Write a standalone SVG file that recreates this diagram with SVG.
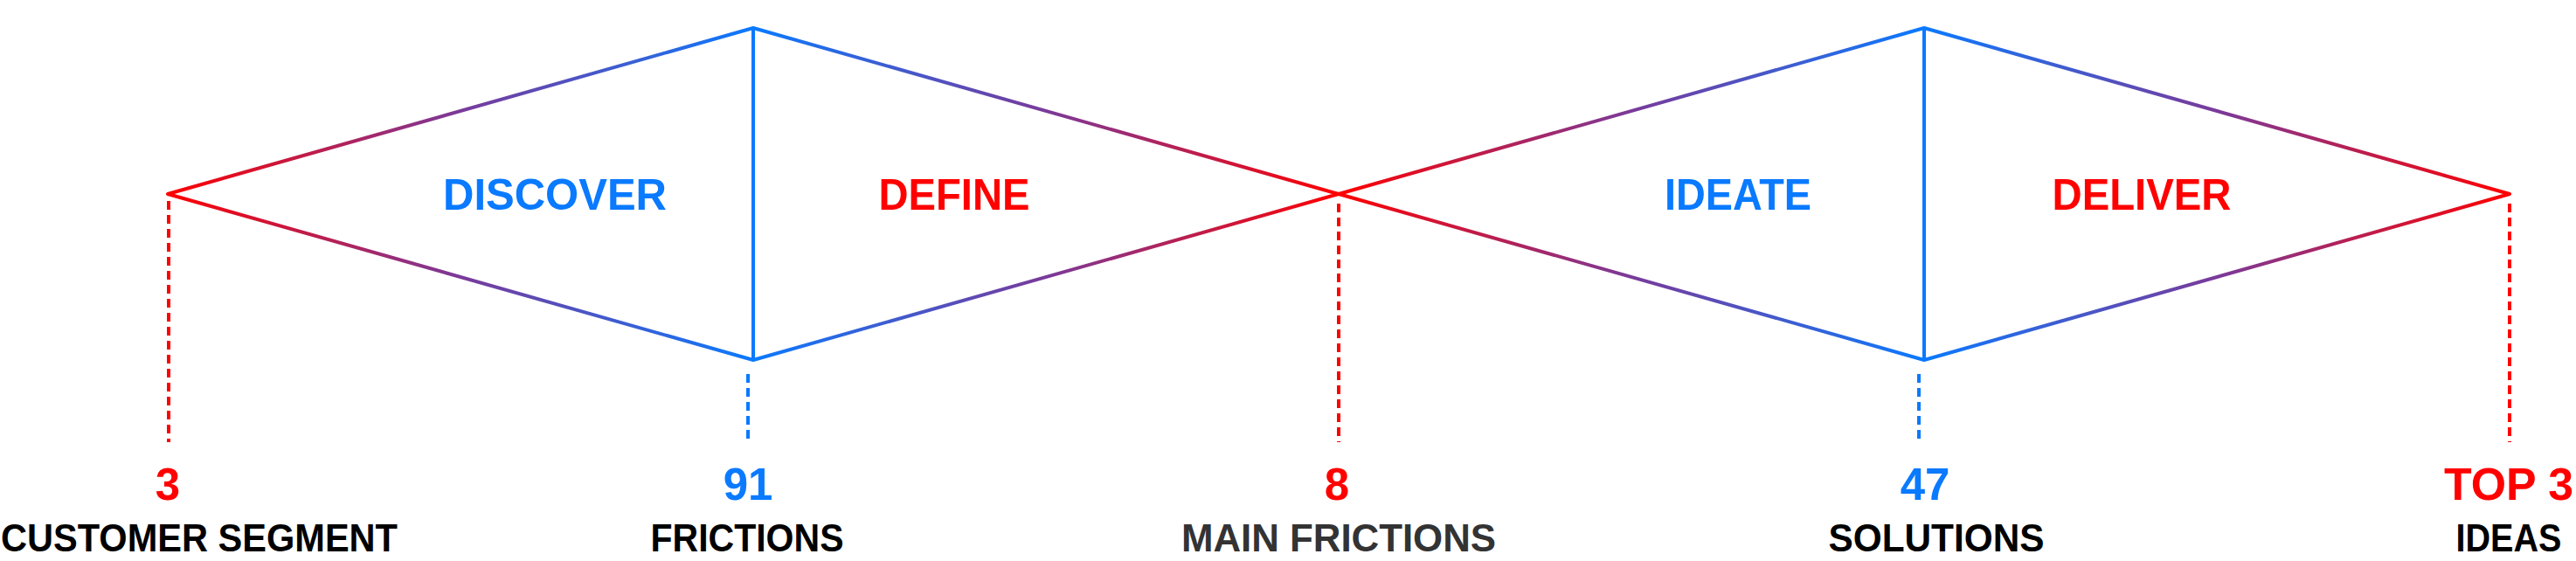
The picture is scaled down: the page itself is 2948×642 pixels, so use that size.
<svg xmlns="http://www.w3.org/2000/svg" width="2948" height="642" viewBox="0 0 2948 642">
  <defs>
    <linearGradient id="grad" gradientUnits="userSpaceOnUse" x1="192" y1="0" x2="862" y2="0" spreadMethod="reflect">
      <stop offset="0" stop-color="#FF0000"/>
      <stop offset="0.5" stop-color="#7A3A9A"/>
      <stop offset="1" stop-color="#0A7AFF"/>
    </linearGradient>
  </defs>
  <style>
    .edge { fill: none; stroke: url(#grad); stroke-width: 4; stroke-linejoin: round; stroke-linecap: round; }
    .vert { fill: none; stroke: #0A7AFF; stroke-width: 4; }
    .dotr { fill: none; stroke: #FF0000; stroke-width: 4; stroke-dasharray: 10 6; }
    .dotb { fill: none; stroke: #0A7AFF; stroke-width: 4; stroke-dasharray: 10 6; }
    .phase { font-family: "Liberation Sans", Arial, sans-serif; font-weight: bold; font-size: 50px; text-anchor: middle; }
    .num { font-family: "Liberation Sans", Arial, sans-serif; font-weight: bold; font-size: 51px; text-anchor: middle; }
    .lbl { font-family: "Liberation Sans", Arial, sans-serif; font-weight: bold; font-size: 44px; text-anchor: middle; fill: #000000; }
    .blue { fill: #0A7AFF; }
    .red { fill: #FF0000; }
  </style>
  <g id="connectors">
    <path class="edge" d="M192,222 L862,32 L1532,222 L2202,32 L2872,222 L2202,412 L1532,222 L862,412 Z"/>
    <line class="vert" x1="862" y1="32" x2="862" y2="412"/>
    <line class="vert" x1="2202" y1="32" x2="2202" y2="412"/>
    <line class="dotr" x1="193" y1="230" x2="193" y2="506"/>
    <line class="dotb" x1="856" y1="428" x2="856" y2="506"/>
    <line class="dotr" x1="1532" y1="233" x2="1532" y2="506"/>
    <line class="dotb" x1="2196" y1="428" x2="2196" y2="506"/>
    <line class="dotr" x1="2872" y1="233" x2="2872" y2="506"/>
  </g>
  <g id="discover"><text class="phase blue" x="635" y="240" textLength="256" lengthAdjust="spacingAndGlyphs">DISCOVER</text></g>
  <g id="define"><text class="phase red" x="1092" y="240" textLength="173" lengthAdjust="spacingAndGlyphs">DEFINE</text></g>
  <g id="ideate"><text class="phase blue" x="1989" y="240" textLength="168" lengthAdjust="spacingAndGlyphs">IDEATE</text></g>
  <g id="deliver"><text class="phase red" x="2451" y="240" textLength="205" lengthAdjust="spacingAndGlyphs">DELIVER</text></g>
  <g id="customer-segment">
    <text class="num red" x="192" y="572">3</text>
    <text class="lbl" x="228" y="631" textLength="454" lengthAdjust="spacingAndGlyphs">CUSTOMER SEGMENT</text>
  </g>
  <g id="frictions">
    <text class="num blue" x="856" y="572">91</text>
    <text class="lbl" x="855" y="631" textLength="221" lengthAdjust="spacingAndGlyphs">FRICTIONS</text>
  </g>
  <g id="main-frictions">
    <text class="num red" x="1530" y="572">8</text>
    <text class="lbl" x="1532" y="631" textLength="360" lengthAdjust="spacingAndGlyphs" style="fill:#333333">MAIN FRICTIONS</text>
  </g>
  <g id="solutions">
    <text class="num blue" x="2203" y="572">47</text>
    <text class="lbl" x="2216" y="631" textLength="247" lengthAdjust="spacingAndGlyphs">SOLUTIONS</text>
  </g>
  <g id="top-ideas">
    <text class="num red" x="2871" y="572" textLength="148" lengthAdjust="spacingAndGlyphs">TOP 3</text>
    <text class="lbl" x="2871" y="631" textLength="121" lengthAdjust="spacingAndGlyphs">IDEAS</text>
  </g>
</svg>
